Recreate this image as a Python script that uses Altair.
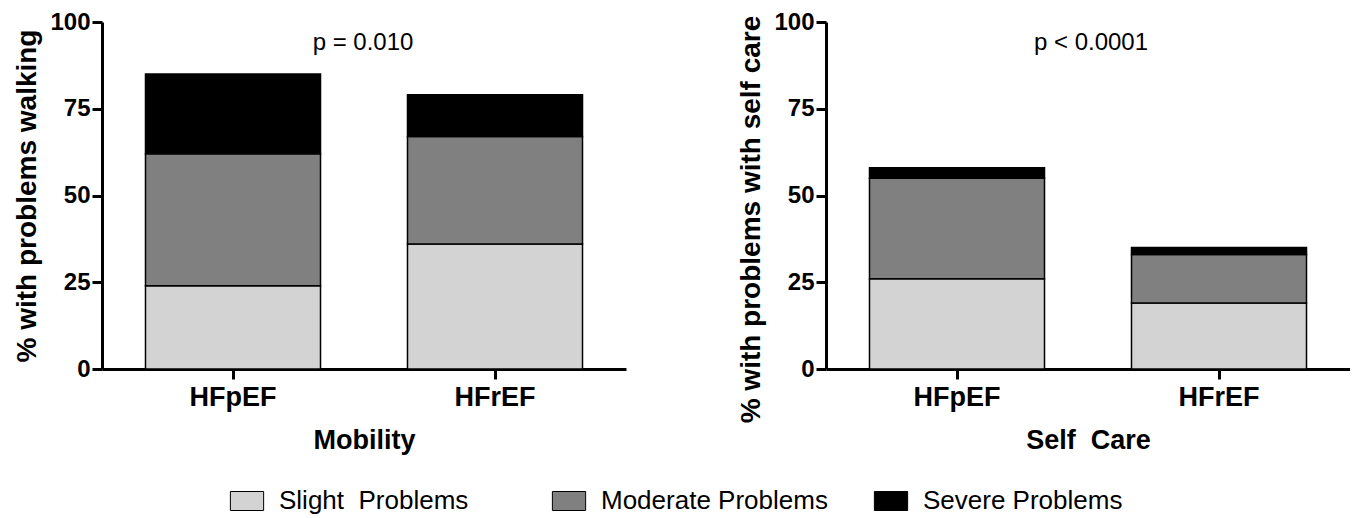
import altair as alt
import pandas as pd

groups = ["HFpEF", "HFrEF"]
levels = ["Slight\u00a0 Problems", "Moderate Problems", "Severe Problems"]
level_colors = ["#d3d3d3", "#808080", "#000000"]

# segment sizes (cumulative tops: 24/62/85, 36/67/79)
mobility_slight = [24, 36]
mobility_moderate = [38, 31]
mobility_severe = [23, 12]

# cumulative tops: 26/55/58, 19/33/35
selfcare_slight = [26, 19]
selfcare_moderate = [29, 14]
selfcare_severe = [3, 2]

p_mobility = "p = 0.010"
p_selfcare = "p < 0.0001"


def make_df(sl, mo, se):
    rows = []
    for i, g in enumerate(groups):
        for k, (lev, vals) in enumerate(zip(levels, [sl, mo, se])):
            rows.append({"group": g, "level": lev, "order": k, "value": vals[i]})
    return pd.DataFrame(rows)


df_mob = make_df(mobility_slight, mobility_moderate, mobility_severe)
df_sc = make_df(selfcare_slight, selfcare_moderate, selfcare_severe)

FONT = "Liberation Sans"
W, H = 524, 347


def panel(df, xtitle, ytitle, ptext, ptx, title_y=None):
    yaxis_kw = dict(
        values=[0, 25, 50, 75, 100],
        labelFontSize=24,
        labelFontWeight="bold",
        labelFont=FONT,
        labelColor="black",
        titleFontSize=28,
        titleFontWeight="bold",
        titleFont=FONT,
        titleColor="black",
        titlePadding=8,
        domainColor="black",
        domainWidth=3,
        tickColor="black",
        tickWidth=3,
        tickSize=10,
        labelPadding=2,
        grid=False,
    )
    if title_y is not None:
        yaxis_kw["titleY"] = title_y
    bars = alt.Chart(df).mark_bar(stroke="black", strokeWidth=1.5).encode(
        x=alt.X(
            "group:N",
            sort=groups,
            title=xtitle,
            scale=alt.Scale(paddingInner=0.332, paddingOuter=0.166),
            axis=alt.Axis(
                labelAngle=0,
                labelFontSize=27,
                labelFontWeight="bold",
                labelFont=FONT,
                labelColor="black",
                titleFontSize=27,
                titleFontWeight="bold",
                titleFont=FONT,
                titleColor="black",
                titlePadding=17,
                domainColor="black",
                domainWidth=3,
                tickColor="black",
                tickWidth=3,
                tickSize=10,
                labelPadding=5,
                grid=False,
            ),
        ),
        y=alt.Y(
            "value:Q",
            stack="zero",
            title=ytitle,
            scale=alt.Scale(domain=[0, 100], nice=False),
            axis=alt.Axis(**yaxis_kw),
        ),
        color=alt.Color(
            "level:N",
            sort=levels,
            scale=alt.Scale(domain=levels, range=level_colors),
            legend=alt.Legend(
                title=None,
                orient="none",
                direction="horizontal",
                legendX=132,
                legendY=466,
                symbolType="M-1.75,-1H1.75V1H-1.75Z",
                symbolSize=361,
                symbolStrokeColor="black",
                symbolStrokeWidth=1,
                symbolOpacity=1,
                labelFontSize=26,
                labelFont=FONT,
                labelColor="black",
                labelLimit=400,
                labelOffset=19,
                columnPadding=44,
                gridAlign="all",
            ),
        ),
        order=alt.Order("order:Q"),
    )
    ptxt = alt.Chart(pd.DataFrame({"t": [ptext], "v": [94]})).mark_text(
        fontSize=24, font=FONT, color="black"
    ).encode(
        text="t:N",
        x=alt.value(ptx),
        y=alt.Y("v:Q", scale=alt.Scale(domain=[0, 100], nice=False)),
    )
    return alt.layer(bars, ptxt).properties(
        width=W, height=H, view=alt.ViewBackground(stroke="transparent", strokeWidth=0)
    )


left = panel(df_mob, "Mobility", "% with problems walking", p_mobility, 261)
right = panel(df_sc, "Self\u00a0 Care", "% with problems with self care", p_selfcare, 265, title_y=197)

chart = (
    alt.hconcat(left, right, spacing=111)
    .properties(padding={"left": 5, "top": 2, "right": 0, "bottom": 0})
    .configure_view(stroke="transparent", strokeWidth=0)
    .configure_axis(grid=False)
    .configure(background="white")
)

chart.save("out.html", embed_options={"renderer": "svg", "actions": False})
